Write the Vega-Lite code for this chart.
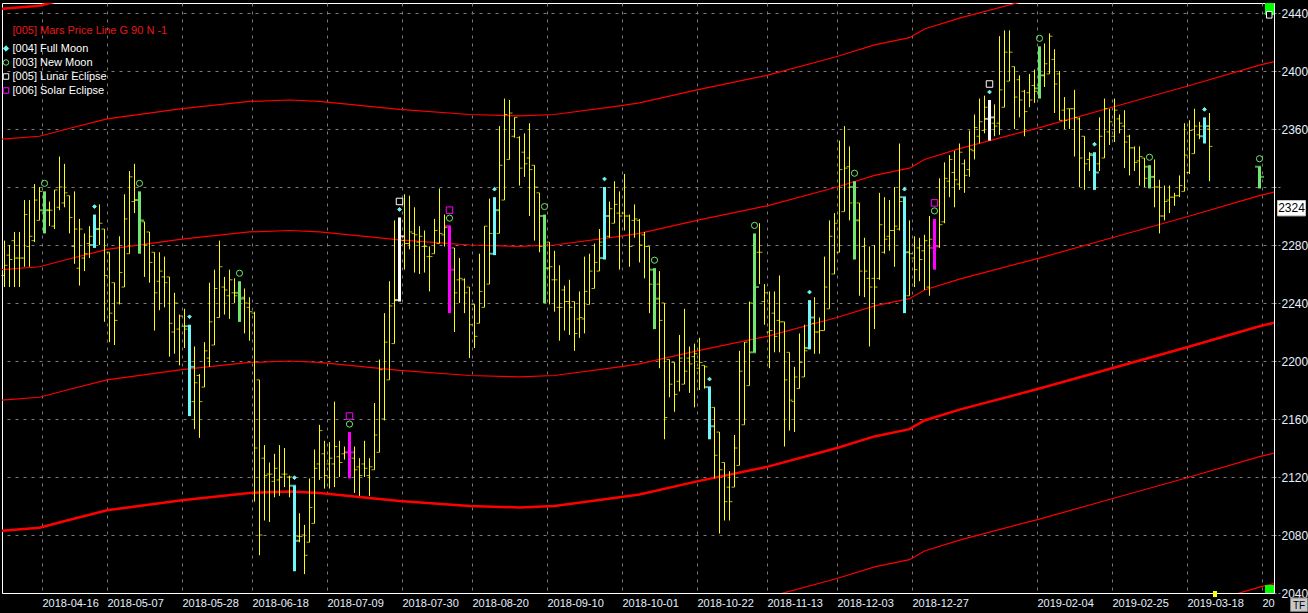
{
"$schema":"https://vega.github.io/schema/vega-lite/v6.json",
"width":1272,"height":590,
"autosize":{"type":"none"},
"padding":{"left":2,"top":3,"right":34,"bottom":20},
"background":"#000000",
"config":{"view":{"stroke":"#ffffff","strokeWidth":1},"font":"Liberation Sans"},
"datasets":{
"bars":[
{"bar":0,"o":2259,"h":2283,"l":2251,"c":2266},{"bar":1,"o":2273,"h":2280,"l":2251,"c":2270},{"bar":2,"o":2283,"h":2289,"l":2251,"c":2271},{"bar":3,"o":2271,"h":2289,"l":2251,"c":2271},{"bar":4,"o":2271,"h":2311,"l":2265,"c":2301},{"bar":5,"o":2279,"h":2311,"l":2265,"c":2286},{"bar":6,"o":2283,"h":2322,"l":2282,"c":2311},{"bar":7,"o":2297,"h":2320,"l":2297,"c":2317},{"bar":8,"o":2304,"h":2317,"l":2288,"c":2304,"ph":"new"},{"bar":9,"o":2304,"h":2310,"l":2293,"c":2304},
{"bar":10,"o":2293,"h":2318,"l":2291,"c":2318},{"bar":11,"o":2306,"h":2341,"l":2304,"c":2320},{"bar":12,"o":2309,"h":2336,"l":2306,"c":2316},{"bar":13,"o":2314,"h":2314,"l":2288,"c":2299},{"bar":14,"o":2279,"h":2317,"l":2267,"c":2291},{"bar":15,"o":2264,"h":2298,"l":2252,"c":2291},{"bar":16,"o":2271,"h":2288,"l":2262,"c":2274},{"bar":17,"o":2281,"h":2293,"l":2271,"c":2286},{"bar":18,"o":2280,"h":2301,"l":2278,"c":2291,"ph":"full"},{"bar":19,"o":2291,"h":2308,"l":2280,"c":2295},
{"bar":20,"o":2291,"h":2291,"l":2227,"c":2259},{"bar":21,"o":2275,"h":2275,"l":2213,"c":2233},{"bar":22,"o":2254,"h":2254,"l":2211,"c":2228},{"bar":23,"o":2240,"h":2286,"l":2239,"c":2261},{"bar":24,"o":2251,"h":2315,"l":2251,"c":2298},{"bar":25,"o":2274,"h":2331,"l":2274,"c":2327},{"bar":26,"o":2310,"h":2336,"l":2302,"c":2311},{"bar":27,"o":2311,"h":2317,"l":2274,"c":2297,"ph":"new"},{"bar":28,"o":2296,"h":2296,"l":2258,"c":2280},{"bar":29,"o":2289,"h":2289,"l":2254,"c":2268},
{"bar":30,"o":2275,"h":2275,"l":2221,"c":2247},{"bar":31,"o":2255,"h":2275,"l":2235,"c":2262},{"bar":32,"o":2258,"h":2272,"l":2237,"c":2254},{"bar":33,"o":2258,"h":2258,"l":2203,"c":2226},{"bar":34,"o":2220,"h":2247,"l":2205,"c":2240},{"bar":35,"o":2222,"h":2232,"l":2197,"c":2231},{"bar":36,"o":2224,"h":2236,"l":2209,"c":2222},{"bar":37,"o":2224,"h":2225,"l":2162,"c":2196,"ph":"full"},{"bar":38,"o":2172,"h":2210,"l":2153,"c":2185},{"bar":39,"o":2190,"h":2191,"l":2147,"c":2172},
{"bar":40,"o":2182,"h":2213,"l":2182,"c":2207},{"bar":41,"o":2202,"h":2254,"l":2196,"c":2227},{"bar":42,"o":2211,"h":2263,"l":2211,"c":2250},{"bar":43,"o":2230,"h":2283,"l":2230,"c":2265},{"bar":44,"o":2251,"h":2258,"l":2232,"c":2249},{"bar":45,"o":2245,"h":2263,"l":2229,"c":2256},{"bar":46,"o":2247,"h":2257,"l":2240,"c":2245},{"bar":47,"o":2247,"h":2255,"l":2227,"c":2243,"ph":"new"},{"bar":48,"o":2244,"h":2250,"l":2219,"c":2240},{"bar":49,"o":2237,"h":2244,"l":2214,"c":2234},
{"bar":50,"o":2233,"h":2234,"l":2103,"c":2140},{"bar":51,"o":2187,"h":2187,"l":2066,"c":2080},{"bar":52,"o":2133,"h":2142,"l":2090,"c":2121},{"bar":53,"o":2122,"h":2130,"l":2089,"c":2122},{"bar":54,"o":2117,"h":2136,"l":2106,"c":2126},{"bar":55,"o":2118,"h":2142,"l":2107,"c":2120},{"bar":56,"o":2122,"h":2140,"l":2113,"c":2122},{"bar":57,"o":2120,"h":2121,"l":2106,"c":2120},{"bar":58,"o":2114,"h":2114,"l":2055,"c":2076,"ph":"full"},{"bar":59,"o":2079,"h":2095,"l":2075,"c":2079},
{"bar":60,"o":2080,"h":2087,"l":2053,"c":2066},{"bar":61,"o":2075,"h":2119,"l":2075,"c":2099},{"bar":62,"o":2088,"h":2139,"l":2088,"c":2126},{"bar":63,"o":2129,"h":2156,"l":2118,"c":2152},{"bar":64,"o":2136,"h":2145,"l":2112,"c":2121},{"bar":65,"o":2129,"h":2144,"l":2112,"c":2133},{"bar":66,"o":2129,"h":2172,"l":2113,"c":2141},{"bar":67,"o":2134,"h":2145,"l":2120,"c":2130},{"bar":68,"o":2136,"h":2141,"l":2132,"c":2137},{"bar":69,"o":2137,"h":2151,"l":2119,"c":2137,"ph":"solar"},
{"bar":70,"o":2133,"h":2141,"l":2109,"c":2125},{"bar":71,"o":2127,"h":2133,"l":2107,"c":2121},{"bar":72,"o":2129,"h":2145,"l":2120,"c":2126},{"bar":73,"o":2121,"h":2133,"l":2107,"c":2127},{"bar":74,"o":2125,"h":2171,"l":2125,"c":2149},{"bar":75,"o":2137,"h":2201,"l":2137,"c":2194},{"bar":76,"o":2160,"h":2233,"l":2159,"c":2213},{"bar":77,"o":2187,"h":2255,"l":2187,"c":2238},{"bar":78,"o":2212,"h":2297,"l":2212,"c":2242},{"bar":79,"o":2242,"h":2299,"l":2241,"c":2286,"ph":"lunar"},
{"bar":80,"o":2283,"h":2315,"l":2263,"c":2281},{"bar":81,"o":2281,"h":2314,"l":2277,"c":2289},{"bar":82,"o":2288,"h":2306,"l":2261,"c":2287},{"bar":83,"o":2282,"h":2293,"l":2260,"c":2286},{"bar":84,"o":2279,"h":2290,"l":2261,"c":2279},{"bar":85,"o":2272,"h":2279,"l":2248,"c":2272},{"bar":86,"o":2274,"h":2298,"l":2274,"c":2290},{"bar":87,"o":2281,"h":2319,"l":2281,"c":2288},{"bar":88,"o":2287,"h":2301,"l":2279,"c":2292},{"bar":89,"o":2293,"h":2293,"l":2233,"c":2263,"ph":"solar"},
{"bar":90,"o":2278,"h":2278,"l":2220,"c":2247},{"bar":91,"o":2256,"h":2271,"l":2240,"c":2257},{"bar":92,"o":2256,"h":2257,"l":2233,"c":2247},{"bar":93,"o":2251,"h":2251,"l":2202,"c":2225},{"bar":94,"o":2239,"h":2239,"l":2209,"c":2217},{"bar":95,"o":2226,"h":2274,"l":2226,"c":2248},{"bar":96,"o":2237,"h":2293,"l":2237,"c":2293},{"bar":97,"o":2253,"h":2312,"l":2253,"c":2288},{"bar":98,"o":2274,"h":2313,"l":2273,"c":2304,"ph":"full"},{"bar":99,"o":2288,"h":2362,"l":2288,"c":2335},
{"bar":100,"o":2311,"h":2381,"l":2311,"c":2370},{"bar":101,"o":2339,"h":2380,"l":2339,"c":2371},{"bar":102,"o":2355,"h":2368,"l":2354,"c":2368},{"bar":103,"o":2354,"h":2355,"l":2321,"c":2333},{"bar":104,"o":2344,"h":2357,"l":2327,"c":2336},{"bar":105,"o":2340,"h":2364,"l":2300,"c":2332},{"bar":106,"o":2335,"h":2335,"l":2283,"c":2320},{"bar":107,"o":2316,"h":2316,"l":2275,"c":2279},{"bar":108,"o":2300,"h":2301,"l":2240,"c":2264,"ph":"new"},{"bar":109,"o":2282,"h":2282,"l":2239,"c":2265},
{"bar":110,"o":2256,"h":2276,"l":2234,"c":2256},{"bar":111,"o":2237,"h":2266,"l":2214,"c":2237},{"bar":112,"o":2249,"h":2252,"l":2221,"c":2241},{"bar":113,"o":2241,"h":2256,"l":2218,"c":2237},{"bar":114,"o":2241,"h":2241,"l":2207,"c":2219},{"bar":115,"o":2229,"h":2248,"l":2216,"c":2230},{"bar":116,"o":2229,"h":2272,"l":2219,"c":2248},{"bar":117,"o":2239,"h":2274,"l":2239,"c":2262},{"bar":118,"o":2250,"h":2281,"l":2250,"c":2268},{"bar":119,"o":2262,"h":2291,"l":2262,"c":2282},
{"bar":120,"o":2271,"h":2320,"l":2270,"c":2300,"ph":"full"},{"bar":121,"o":2286,"h":2310,"l":2285,"c":2305},{"bar":122,"o":2295,"h":2324,"l":2295,"c":2308},{"bar":123,"o":2302,"h":2317,"l":2263,"c":2300},{"bar":124,"o":2302,"h":2329,"l":2290,"c":2300},{"bar":125,"o":2300,"h":2301,"l":2265,"c":2279},{"bar":126,"o":2297,"h":2308,"l":2285,"c":2298},{"bar":127,"o":2297,"h":2298,"l":2268,"c":2280},{"bar":128,"o":2287,"h":2289,"l":2257,"c":2279},{"bar":129,"o":2279,"h":2279,"l":2233,"c":2253},
{"bar":130,"o":2263,"h":2264,"l":2222,"c":2243,"ph":"new"},{"bar":131,"o":2253,"h":2262,"l":2195,"c":2228},{"bar":132,"o":2240,"h":2240,"l":2146,"c":2161},{"bar":133,"o":2201,"h":2201,"l":2175,"c":2184},{"bar":134,"o":2199,"h":2199,"l":2165,"c":2177},{"bar":135,"o":2186,"h":2218,"l":2179,"c":2202},{"bar":136,"o":2184,"h":2236,"l":2184,"c":2193},{"bar":137,"o":2202,"h":2210,"l":2178,"c":2198},{"bar":138,"o":2203,"h":2212,"l":2168,"c":2205},{"bar":139,"o":2195,"h":2216,"l":2180,"c":2199},
{"bar":140,"o":2197,"h":2197,"l":2181,"c":2196},{"bar":141,"o":2182,"h":2182,"l":2146,"c":2155,"ph":"full"},{"bar":142,"o":2168,"h":2168,"l":2119,"c":2135},{"bar":143,"o":2151,"h":2151,"l":2081,"c":2125},{"bar":144,"o":2130,"h":2130,"l":2090,"c":2103},{"bar":145,"o":2113,"h":2124,"l":2090,"c":2103},{"bar":146,"o":2113,"h":2149,"l":2113,"c":2140},{"bar":147,"o":2128,"h":2207,"l":2128,"c":2193},{"bar":148,"o":2156,"h":2213,"l":2156,"c":2213},{"bar":149,"o":2183,"h":2241,"l":2183,"c":2240},
{"bar":150,"o":2206,"h":2288,"l":2206,"c":2251,"ph":"new"},{"bar":151,"o":2275,"h":2295,"l":2253,"c":2275},{"bar":152,"o":2241,"h":2253,"l":2225,"c":2247},{"bar":153,"o":2220,"h":2248,"l":2195,"c":2221},{"bar":154,"o":2233,"h":2248,"l":2206,"c":2217},{"bar":155,"o":2228,"h":2259,"l":2206,"c":2227},{"bar":156,"o":2227,"h":2227,"l":2141,"c":2187},{"bar":157,"o":2206,"h":2206,"l":2152,"c":2173},{"bar":158,"o":2172,"h":2196,"l":2151,"c":2189},{"bar":159,"o":2181,"h":2219,"l":2181,"c":2199},
{"bar":160,"o":2189,"h":2225,"l":2189,"c":2207},{"bar":161,"o":2209,"h":2242,"l":2208,"c":2230,"ph":"full"},{"bar":162,"o":2226,"h":2244,"l":2205,"c":2220},{"bar":163,"o":2220,"h":2230,"l":2205,"c":2221},{"bar":164,"o":2221,"h":2272,"l":2221,"c":2251},{"bar":165,"o":2236,"h":2297,"l":2236,"c":2286},{"bar":166,"o":2260,"h":2302,"l":2260,"c":2295},{"bar":167,"o":2275,"h":2352,"l":2275,"c":2332},{"bar":168,"o":2303,"h":2362,"l":2303,"c":2333},{"bar":169,"o":2334,"h":2348,"l":2297,"c":2309},
{"bar":170,"o":2320,"h":2324,"l":2270,"c":2297,"ph":"new"},{"bar":171,"o":2309,"h":2309,"l":2245,"c":2262},{"bar":172,"o":2279,"h":2285,"l":2244,"c":2262},{"bar":173,"o":2257,"h":2279,"l":2210,"c":2251},{"bar":174,"o":2257,"h":2280,"l":2222,"c":2251},{"bar":175,"o":2257,"h":2316,"l":2256,"c":2294},{"bar":176,"o":2275,"h":2313,"l":2274,"c":2284},{"bar":177,"o":2286,"h":2311,"l":2276,"c":2290},{"bar":178,"o":2290,"h":2320,"l":2265,"c":2293},{"bar":179,"o":2291,"h":2350,"l":2290,"c":2310},
{"bar":180,"o":2313,"h":2313,"l":2233,"c":2275,"ph":"full"},{"bar":181,"o":2245,"h":2297,"l":2245,"c":2274},{"bar":182,"o":2271,"h":2286,"l":2251,"c":2263},{"bar":183,"o":2278,"h":2285,"l":2255,"c":2270},{"bar":184,"o":2276,"h":2287,"l":2249,"c":2283},{"bar":185,"o":2251,"h":2300,"l":2245,"c":2284},{"bar":186,"o":2278,"h":2298,"l":2263,"c":2279,"ph":"solar"},{"bar":187,"o":2279,"h":2326,"l":2278,"c":2294},{"bar":188,"o":2296,"h":2337,"l":2295,"c":2326},{"bar":189,"o":2324,"h":2342,"l":2313,"c":2339},
{"bar":190,"o":2330,"h":2345,"l":2306,"c":2325},{"bar":191,"o":2322,"h":2350,"l":2318,"c":2344},{"bar":192,"o":2336,"h":2339,"l":2316,"c":2328},{"bar":193,"o":2332,"h":2359,"l":2327,"c":2346},{"bar":194,"o":2345,"h":2370,"l":2339,"c":2361},{"bar":195,"o":2355,"h":2381,"l":2350,"c":2365},{"bar":196,"o":2359,"h":2383,"l":2357,"c":2375},{"bar":197,"o":2367,"h":2380,"l":2352,"c":2368,"ph":"lunar"},{"bar":198,"o":2364,"h":2377,"l":2355,"c":2362},{"bar":199,"o":2364,"h":2424,"l":2356,"c":2387},
{"bar":200,"o":2375,"h":2428,"l":2375,"c":2413},{"bar":201,"o":2393,"h":2428,"l":2393,"c":2413},{"bar":202,"o":2403,"h":2403,"l":2360,"c":2382},{"bar":203,"o":2394,"h":2397,"l":2368,"c":2380},{"bar":204,"o":2386,"h":2387,"l":2355,"c":2372},{"bar":205,"o":2385,"h":2398,"l":2375,"c":2380},{"bar":206,"o":2390,"h":2401,"l":2378,"c":2386},{"bar":207,"o":2388,"h":2417,"l":2381,"c":2397,"ph":"new"},{"bar":208,"o":2397,"h":2419,"l":2389,"c":2405},{"bar":209,"o":2398,"h":2426,"l":2398,"c":2424},
{"bar":210,"o":2408,"h":2415,"l":2371,"c":2391},{"bar":211,"o":2398,"h":2400,"l":2366,"c":2366},{"bar":212,"o":2373,"h":2382,"l":2360,"c":2366},{"bar":213,"o":2374,"h":2374,"l":2360,"c":2374},{"bar":214,"o":2374,"h":2387,"l":2341,"c":2368},{"bar":215,"o":2367,"h":2368,"l":2320,"c":2340},{"bar":216,"o":2355,"h":2355,"l":2318,"c":2336},{"bar":217,"o":2339,"h":2344,"l":2331,"c":2343},{"bar":218,"o":2342,"h":2344,"l":2318,"c":2330,"ph":"full"},{"bar":219,"o":2336,"h":2368,"l":2331,"c":2355},
{"bar":220,"o":2340,"h":2381,"l":2340,"c":2374},{"bar":221,"o":2358,"h":2374,"l":2349,"c":2365},{"bar":222,"o":2355,"h":2381,"l":2351,"c":2373},{"bar":223,"o":2367,"h":2370,"l":2357,"c":2364},{"bar":224,"o":2362,"h":2373,"l":2333,"c":2351},{"bar":225,"o":2355,"h":2356,"l":2328,"c":2347},{"bar":226,"o":2347,"h":2348,"l":2331,"c":2337},{"bar":227,"o":2338,"h":2348,"l":2321,"c":2341},{"bar":228,"o":2340,"h":2340,"l":2320,"c":2326},{"bar":229,"o":2334,"h":2335,"l":2319,"c":2327,"ph":"new"},
{"bar":230,"o":2327,"h":2339,"l":2306,"c":2320},{"bar":231,"o":2320,"h":2325,"l":2288,"c":2300},{"bar":232,"o":2300,"h":2321,"l":2297,"c":2310},{"bar":233,"o":2311,"h":2321,"l":2302,"c":2313},{"bar":234,"o":2313,"h":2316,"l":2307,"c":2314},{"bar":235,"o":2314,"h":2328,"l":2313,"c":2321},{"bar":236,"o":2317,"h":2364,"l":2317,"c":2342},{"bar":237,"o":2330,"h":2366,"l":2329,"c":2359},{"bar":238,"o":2343,"h":2374,"l":2343,"c":2362},{"bar":239,"o":2356,"h":2365,"l":2353,"c":2362},
{"bar":240,"o":2355,"h":2368,"l":2350,"c":2362,"ph":"full"},{"bar":241,"o":2360,"h":2371,"l":2324,"c":2348},{"bar":251,"o":2334,"h":2334,"l":2319,"c":2327,"ph":"new"}
],
"curves":[
{"bar":-0.5,"m180":1903,"m90":1993,"p0":2083,"p90":2173,"p180":2263,"p270":2353,"p360":2443},
{"bar":7,"m180":1905,"m90":1995,"p0":2085,"p90":2175,"p180":2265,"p270":2355,"p360":2445},
{"bar":12.5,"m180":1910,"m90":2000,"p0":2090,"p90":2180,"p180":2270,"p270":2360,"p360":2450},
{"bar":20.5,"m180":1917,"m90":2007,"p0":2097,"p90":2187,"p180":2277,"p270":2367,"p360":2457},
{"bar":35.5,"m180":1924,"m90":2014,"p0":2104,"p90":2194,"p180":2284,"p270":2374,"p360":2464},
{"bar":49,"m180":1929,"m90":2019,"p0":2109,"p90":2199,"p180":2289,"p270":2379,"p360":2469},
{"bar":57,"m180":1930,"m90":2020,"p0":2110,"p90":2200,"p180":2290,"p270":2380,"p360":2470},
{"bar":63,"m180":1929,"m90":2019,"p0":2109,"p90":2199,"p180":2289,"p270":2379,"p360":2469},
{"bar":79,"m180":1923.5,"m90":2013.5,"p0":2103.5,"p90":2193.5,"p180":2283.5,"p270":2373.5,"p360":2463.5},
{"bar":93,"m180":1920,"m90":2010,"p0":2100,"p90":2190,"p180":2280,"p270":2370,"p360":2460},
{"bar":103,"m180":1919,"m90":2009,"p0":2099,"p90":2189,"p180":2279,"p270":2369,"p360":2459},
{"bar":110,"m180":1920,"m90":2010,"p0":2100,"p90":2190,"p180":2280,"p270":2370,"p360":2460},
{"bar":123,"m180":1926,"m90":2016,"p0":2106,"p90":2196,"p180":2286,"p270":2376,"p360":2466},
{"bar":127,"m180":1928,"m90":2018,"p0":2108,"p90":2198,"p180":2288,"p270":2378,"p360":2468},
{"bar":138.5,"m180":1937,"m90":2027,"p0":2117,"p90":2207,"p180":2297,"p270":2387,"p360":2477},
{"bar":152.5,"m180":1947,"m90":2037,"p0":2127,"p90":2217,"p180":2307,"p270":2397,"p360":2487},
{"bar":166.5,"m180":1960,"m90":2050,"p0":2140,"p90":2230,"p180":2320,"p270":2410,"p360":2500},
{"bar":174,"m180":1968,"m90":2058,"p0":2148,"p90":2238,"p180":2328,"p270":2418,"p360":2508},
{"bar":181,"m180":1973,"m90":2063,"p0":2153,"p90":2243,"p180":2333,"p270":2423,"p360":2513},
{"bar":184,"m180":1979,"m90":2069,"p0":2159,"p90":2249,"p180":2339,"p270":2429,"p360":2519},
{"bar":191,"m180":1986.5,"m90":2076.5,"p0":2166.5,"p90":2256.5,"p180":2346.5,"p270":2436.5,"p360":2526.5},
{"bar":207,"m180":2001,"m90":2091,"p0":2181,"p90":2271,"p180":2361,"p270":2451,"p360":2541},
{"bar":221.5,"m180":2015,"m90":2105,"p0":2195,"p90":2285,"p180":2375,"p270":2465,"p360":2555},
{"bar":236.5,"m180":2029.5,"m90":2119.5,"p0":2209.5,"p90":2299.5,"p180":2389.5,"p270":2479.5,"p360":2569.5},
{"bar":251,"m180":2044,"m90":2134,"p0":2224,"p90":2314,"p180":2404,"p270":2494,"p360":2584},
{"bar":254,"m180":2046.5,"m90":2136.5,"p0":2226.5,"p90":2316.5,"p180":2406.5,"p270":2496.5,"p360":2586.5}
],
"moons":[
{"bar":8,"h":2317,"m":"[003] New Moon","s":1},{"bar":18,"h":2301,"m":"[004] Full Moon","s":1},{"bar":27,"h":2317,"m":"[003] New Moon","s":1},{"bar":37,"h":2225,"m":"[004] Full Moon","s":1},{"bar":47,"h":2255,"m":"[003] New Moon","s":1},{"bar":58,"h":2114,"m":"[004] Full Moon","s":1},
{"bar":69,"h":2151,"m":"[003] New Moon","s":1},{"bar":69,"h":2151,"m":"[006] Solar Eclipse","s":2},
{"bar":79,"h":2299,"m":"[004] Full Moon","s":1},{"bar":79,"h":2299,"m":"[005] Lunar Eclipse","s":2},
{"bar":89,"h":2293,"m":"[003] New Moon","s":1},{"bar":89,"h":2293,"m":"[006] Solar Eclipse","s":2},
{"bar":98,"h":2313,"m":"[004] Full Moon","s":1},{"bar":108,"h":2301,"m":"[003] New Moon","s":1},{"bar":120,"h":2320,"m":"[004] Full Moon","s":1},{"bar":130,"h":2264,"m":"[003] New Moon","s":1},{"bar":141,"h":2182,"m":"[004] Full Moon","s":1},{"bar":150,"h":2288,"m":"[003] New Moon","s":1},{"bar":161,"h":2242,"m":"[004] Full Moon","s":1},{"bar":170,"h":2324,"m":"[003] New Moon","s":1},{"bar":180,"h":2313,"m":"[004] Full Moon","s":1},
{"bar":186,"h":2298,"m":"[003] New Moon","s":1},{"bar":186,"h":2298,"m":"[006] Solar Eclipse","s":2},
{"bar":197,"h":2380,"m":"[004] Full Moon","s":1},{"bar":197,"h":2380,"m":"[005] Lunar Eclipse","s":2},
{"bar":207,"h":2417,"m":"[003] New Moon","s":1},{"bar":218,"h":2344,"m":"[004] Full Moon","s":1},{"bar":229,"h":2335,"m":"[003] New Moon","s":1},{"bar":240,"h":2368,"m":"[004] Full Moon","s":1},{"bar":251,"h":2334,"m":"[003] New Moon","s":1}
],
"last":[{"bar":251,"v":2324,"t":"2324"}]
},
"layer":[
{"data":{"name":"curves"},
"transform":[{"fold":["m180","m90","p0","p90","p180","p270","p360"],"as":["key","price"]}],
"mark":{"type":"line","clip":true},
"encoding":{
"x":{"field":"bar","type":"quantitative","scale":{"domain":[-0.5,253.9],"nice":false,"zero":false},
"axis":{"orient":"bottom","values":[7.5,20.5,35.5,49.5,64.5,79.5,93.5,108.5,123.5,138.5,152.5,166.5,181.5,206.5,221.5,236.5,251.5],
"labelExpr":"['2018-04-16','2018-05-07','2018-05-28','2018-06-18','2018-07-09','2018-07-30','2018-08-20','2018-09-10','2018-10-01','2018-10-22','2018-11-13','2018-12-03','2018-12-27','2019-02-04','2019-02-25','2019-03-18','20'][indexof([7.5,20.5,35.5,49.5,64.5,79.5,93.5,108.5,123.5,138.5,152.5,166.5,181.5,206.5,221.5,236.5,251.5], datum.value)]",
"labelAlign":"left","labelBaseline":"top","labelFontSize":11,"labelColor":"#e6f0ff","labelPadding":4,"labelOverlap":false,"labelFlush":false,"labelBound":false,
"ticks":false,"domain":true,"domainColor":"#ffffff","grid":true,"gridColor":"#7a7a7a","gridDash":[3,5],"gridWidth":1,
"title":"FIBONACCI/GALACTIC TRADER(TM)","titleX":1.5,"titleY":-17,"titleAlign":"left","titleBaseline":"middle","titleAngle":0,"titleFontSize":9.4,"titleFontWeight":"normal","titleColor":"#e0e0e0"}},
"y":{"field":"price","type":"quantitative","scale":{"domain":[2040,2446.9],"nice":false,"zero":false},
"axis":{"orient":"right","values":[2040,2080,2120,2160,2200,2240,2280,2320,2360,2400,2440],"format":"d","labelExpr":"datum.value == 2320 ? '' : datum.label",
"labelFontSize":12,"labelColor":"#e6f0ff","labelPadding":1,"labelAlign":"left","labelBaseline":"middle","labelOverlap":false,"labelFlush":false,"labelBound":false,
"ticks":true,"tickSize":6,"tickColor":"#909090","tickDash":[2,2],"domain":true,"domainColor":"#ffffff","grid":true,"gridColor":"#7a7a7a","gridDash":[3,5],"gridWidth":1,"title":null}},
"color":{"datum":"[005] Mars Price Line G 90 N -1","type":"nominal","scale":{"domain":["[005] Mars Price Line G 90 N -1"],"range":["#ff0000"]},
"legend":{"title":null,"orient":"none","legendX":-1.5,"legendY":22,"labelColor":"#e81818","labelFontSize":11,"labelFont":"Liberation Sans","labelOffset":1,"symbolType":"circle","symbolSize":30,"symbolOpacity":0,"symbolStrokeWidth":0,"padding":0,"labelLimit":300}},
"detail":{"field":"key"},
"strokeWidth":{"condition":{"test":"datum.key == 'p0' || datum.key == 'p360'","value":2.5},"value":1.2}}},
{"data":{"name":"bars"},
"mark":{"type":"rule"},
"encoding":{"x":{"field":"bar","type":"quantitative","title":null},"y":{"field":"l","type":"quantitative","title":null},"y2":{"field":"h"},
"color":{"condition":[{"test":"datum.ph=='full'","value":"#70f8f8"},{"test":"datum.ph=='new'","value":"#70e870"},{"test":"datum.ph=='lunar'","value":"#ffffff"},{"test":"datum.ph=='solar'","value":"#ff00ff"}],"value":"#ffff00"},
"strokeWidth":{"condition":{"test":"isValid(datum.ph)","value":3},"value":1}}},
{"data":{"name":"bars"},"transform":[{"filter":"!isValid(datum.ph)"}],
"mark":{"type":"tick","orient":"horizontal","size":3,"thickness":1,"xOffset":-1.5,"color":"#ffff00"},
"encoding":{"x":{"field":"bar","type":"quantitative","title":null},"y":{"field":"o","type":"quantitative","title":null}}},
{"data":{"name":"bars"},"transform":[{"filter":"!isValid(datum.ph)"}],
"mark":{"type":"tick","orient":"horizontal","size":3,"thickness":1,"xOffset":1.5,"color":"#ffff00"},
"encoding":{"x":{"field":"bar","type":"quantitative","title":null},"y":{"field":"c","type":"quantitative","title":null}}},
{"data":{"name":"bars"},"transform":[{"filter":"isValid(datum.ph)"}],
"mark":{"type":"tick","orient":"horizontal","size":6,"thickness":2,"xOffset":-1.5},
"encoding":{"x":{"field":"bar","type":"quantitative","title":null},"y":{"field":"o","type":"quantitative","title":null},
"color":{"condition":[{"test":"datum.ph=='full'","value":"#70f8f8"},{"test":"datum.ph=='new'","value":"#70e870"},{"test":"datum.ph=='lunar'","value":"#ffffff"},{"test":"datum.ph=='solar'","value":"#ff00ff"}],"value":"#ffff00"}}},
{"data":{"name":"bars"},"transform":[{"filter":"isValid(datum.ph)"}],
"mark":{"type":"tick","orient":"horizontal","size":6,"thickness":2,"xOffset":1.5},
"encoding":{"x":{"field":"bar","type":"quantitative","title":null},"y":{"field":"c","type":"quantitative","title":null},
"color":{"condition":[{"test":"datum.ph=='full'","value":"#70f8f8"},{"test":"datum.ph=='new'","value":"#70e870"},{"test":"datum.ph=='lunar'","value":"#ffffff"},{"test":"datum.ph=='solar'","value":"#ff00ff"}],"value":"#ffff00"}}},
{"data":{"name":"moons"},"transform":[{"filter":"datum.s == 1"}],
"mark":{"type":"point","yOffset":-8,"strokeWidth":1,"opacity":1},
"encoding":{"x":{"field":"bar","type":"quantitative","title":null},"y":{"field":"h","type":"quantitative","title":null},
"shape":{"field":"m","type":"nominal","scale":{"domain":["[004] Full Moon","[003] New Moon","[005] Lunar Eclipse","[006] Solar Eclipse"],"range":["diamond","circle","square","square"]},
"legend":{"title":null,"orient":"none","legendX":-1.5,"legendY":40,"labelFontSize":11,"labelFont":"Liberation Sans","labelColor":"#ffffff","labelOffset":1,"symbolSize":30,"symbolStrokeWidth":1,"rowPadding":2,"padding":0,
"encode":{"labels":{"fill":{"condition":[{"test":"datum.value == '[004] Full Moon'","value":"#70f8f8"},{"test":"datum.value == '[003] New Moon'","value":"#70e870"},{"test":"datum.value == '[005] Lunar Eclipse'","value":"#ffffff"}],"value":"#ff00ff"}}}}},
"stroke":{"field":"m","type":"nominal","scale":{"domain":["[004] Full Moon","[003] New Moon","[005] Lunar Eclipse","[006] Solar Eclipse"],"range":["#70f8f8","#70e870","#ffffff","#ff00ff"]},
"legend":{"title":null,"orient":"none","legendX":-1.5,"legendY":40}},
"fill":{"field":"m","type":"nominal","scale":{"domain":["[004] Full Moon","[003] New Moon","[005] Lunar Eclipse","[006] Solar Eclipse"],"range":["#70f8f8","transparent","transparent","transparent"]},
"legend":{"title":null,"orient":"none","legendX":-1.5,"legendY":40}},
"size":{"condition":{"test":"datum.m == '[004] Full Moon'","value":14},"value":38}}},
{"data":{"name":"moons"},"transform":[{"filter":"datum.s == 2"}],
"mark":{"type":"point","yOffset":-16,"strokeWidth":1,"opacity":1},
"encoding":{"x":{"field":"bar","type":"quantitative","title":null},"y":{"field":"h","type":"quantitative","title":null},
"shape":{"field":"m","type":"nominal"},"stroke":{"field":"m","type":"nominal"},"fill":{"field":"m","type":"nominal"},
"size":{"value":42}}},
{"data":{"name":"last"},
"mark":{"type":"point","shape":"M-1,-0.55L1,-0.55L1,0.55L-1,0.55Z","size":784,"filled":true,"fill":"#ffffff","stroke":"#c0c0c0","strokeWidth":1,"opacity":1,"xOffset":32,"yOffset":27},
"encoding":{"x":{"field":"bar","type":"quantitative","title":null},"y":{"field":"v","type":"quantitative","title":null}}},
{"data":{"name":"last"},
"mark":{"type":"text","color":"#000000","fontSize":12,"font":"Liberation Sans","xOffset":32,"yOffset":27,"align":"center","baseline":"middle"},
"encoding":{"x":{"field":"bar","type":"quantitative","title":null},"y":{"field":"v","type":"quantitative","title":null},"text":{"field":"t"}}},
{"data":{"values":[{"ui":"top"}]},"mark":{"type":"rect","color":"#00ff00","clip":false},
"encoding":{"x":{"datum":252.1},"x2":{"datum":253.9},"y":{"datum":2446.9},"y2":{"datum":2438.6}}},
{"data":{"values":[{"ui":"icon"}]},"mark":{"type":"rect","fill":"#000000","stroke":"#ffffff","strokeWidth":1,"clip":false},
"encoding":{"x":{"datum":252.4},"x2":{"datum":253.5},"y":{"datum":2441},"y2":{"datum":2436.5}}},
{"data":{"values":[{"ui":"bottom"}]},"mark":{"type":"rect","color":"#00ff00","clip":false},
"encoding":{"x":{"datum":252.1},"x2":{"datum":253.9},"y":{"datum":2045.5},"y2":{"datum":2040}}},
{"data":{"values":[{"ui":"cursor"}]},"mark":{"type":"rect","color":"#ffff00","clip":false},
"encoding":{"x":{"datum":241.7},"x2":{"datum":242.5},"y":{"datum":2041.4},"y2":{"datum":2037.2}}},
{"data":{"values":[{"ui":"button"}]},"mark":{"type":"rect","fill":"#c8c8c8","stroke":"#808080","strokeWidth":1,"clip":false},
"encoding":{"x":{"datum":257.2},"x2":{"datum":260.6},"y":{"datum":2036.6},"y2":{"datum":2027.3}}},
{"data":{"values":[{"ui":"button"}]},"mark":{"type":"text","text":"TF","color":"#000000","fontSize":10,"font":"Liberation Sans","align":"center","baseline":"middle","clip":false},
"encoding":{"x":{"datum":258.9},"y":{"datum":2031.2}}}
]
}
